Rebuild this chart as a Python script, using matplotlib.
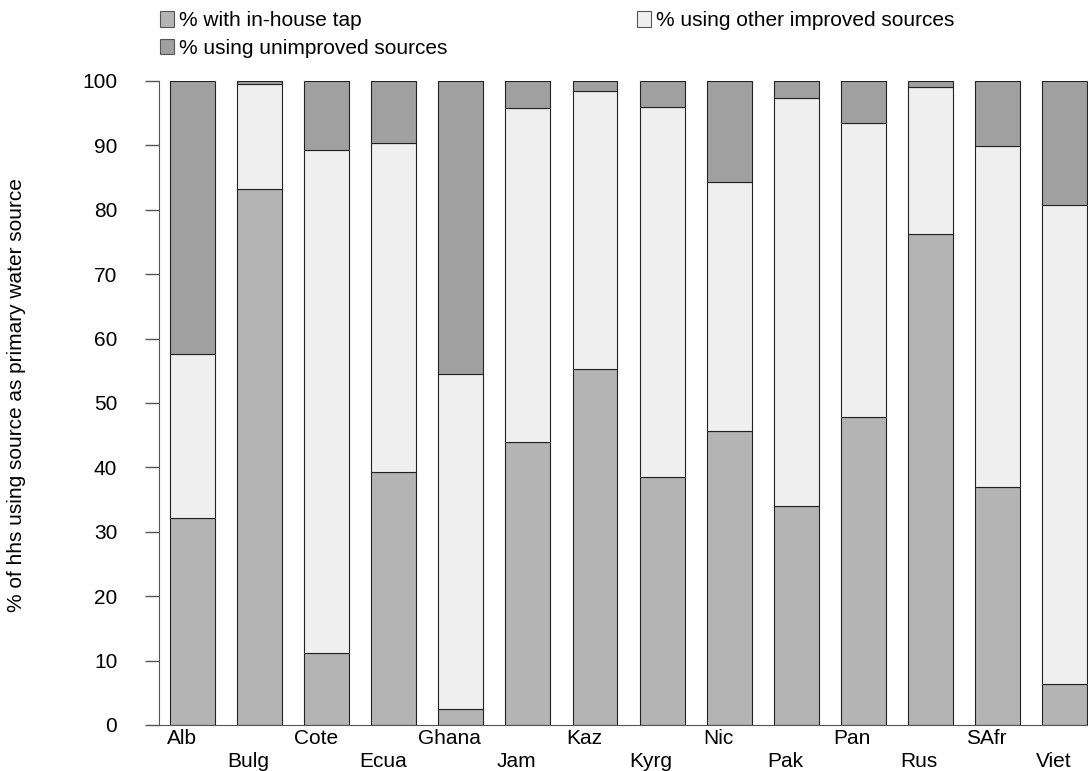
import matplotlib
matplotlib.use("Agg")
import matplotlib.pyplot as plt
import matplotlib.patches as mpatches
from matplotlib.transforms import ScaledTranslation
import numpy as np

countries = ["Alb", "Bulg", "Cote", "Ecua", "Ghana", "Jam", "Kaz", "Kyrg",
             "Nic", "Pak", "Pan", "Rus", "SAfr", "Viet"]
tap = [32.2, 83.2, 11.2, 39.3, 2.5, 43.9, 55.3, 38.5, 45.7, 34.0, 47.8, 76.2, 37.0, 6.4]
other = [25.4, 16.4, 78.1, 51.1, 52.0, 51.9, 43.1, 57.5, 38.6, 63.4, 45.7, 22.9, 52.9, 74.3]
unimproved = [42.4, 0.4, 10.7, 9.6, 45.5, 4.2, 1.6, 4.0, 15.7, 2.6, 6.5, 0.9, 10.1, 19.3]

c_tap = "#b4b4b4"
c_other = "#efefef"
c_unimp = "#a0a0a0"

plt.rcParams["font.family"] = ["Liberation Sans", "DejaVu Sans"]
fs = 15
plt.rcParams["font.size"] = fs

fig = plt.figure(figsize=(10.88, 7.71), dpi=100)
ax = fig.add_axes([159 / 1088, 1 - 725 / 771, 1 - 159 / 1088, (725 - 81) / 771])

x = np.arange(len(countries))
tap = np.array(tap)
other = np.array(other)
unimproved = np.array(unimproved)
w = 0.67
kw = dict(width=w, edgecolor="#222222", linewidth=0.8)
ax.bar(x, tap, color=c_tap, **kw)
ax.bar(x, other, bottom=tap, color=c_other, **kw)
ax.bar(x, unimproved, bottom=tap + other, color=c_unimp, **kw)

ax.set_xlim(-0.5, 13.35)
ax.set_ylim(0, 100)
ax.set_yticks(range(0, 101, 10))
ax.tick_params(axis="y", length=10, width=1, color="#555555", pad=20, labelsize=fs)
ax.tick_params(axis="x", length=0, pad=3, labelsize=fs)
ax.set_xticks(x)
ax.set_xticklabels(countries)
for i, lab in enumerate(ax.get_xticklabels()):
    dy = 0 if i % 2 == 0 else -23 / 100
    lab.set_transform(lab.get_transform() + ScaledTranslation(-11 / 100, dy, fig.dpi_scale_trans))

for s in ["top", "right"]:
    ax.spines[s].set_visible(False)
ax.spines["left"].set_color("#555555")
ax.spines["bottom"].set_color("#555555")

ax.set_ylabel("% of hhs using source as primary water source", fontsize=fs)
ax.yaxis.set_label_coords(-(159 - 26) / 929, 0.512)

h_tap = mpatches.Patch(facecolor=c_tap, edgecolor="#555555", linewidth=0.8)
h_other = mpatches.Patch(facecolor=c_other, edgecolor="#555555", linewidth=0.8)
h_unimp = mpatches.Patch(facecolor=c_unimp, edgecolor="#555555", linewidth=0.8)

leg_kw = dict(loc="upper left", frameon=False, borderpad=0, borderaxespad=0,
              handlelength=0.65, handleheight=0.8, handletextpad=0.25,
              labelspacing=0.4, fontsize=fs)
fig.legend([h_tap, h_unimp], ["% with in-house tap", "% using unimproved sources"],
           bbox_to_anchor=(160 / 1088, 1 - 11 / 771), **leg_kw)
fig.legend([h_other], ["% using other improved sources"],
           bbox_to_anchor=(637 / 1088, 1 - 11 / 771), **leg_kw)

fig.savefig("out.png", dpi=100)
